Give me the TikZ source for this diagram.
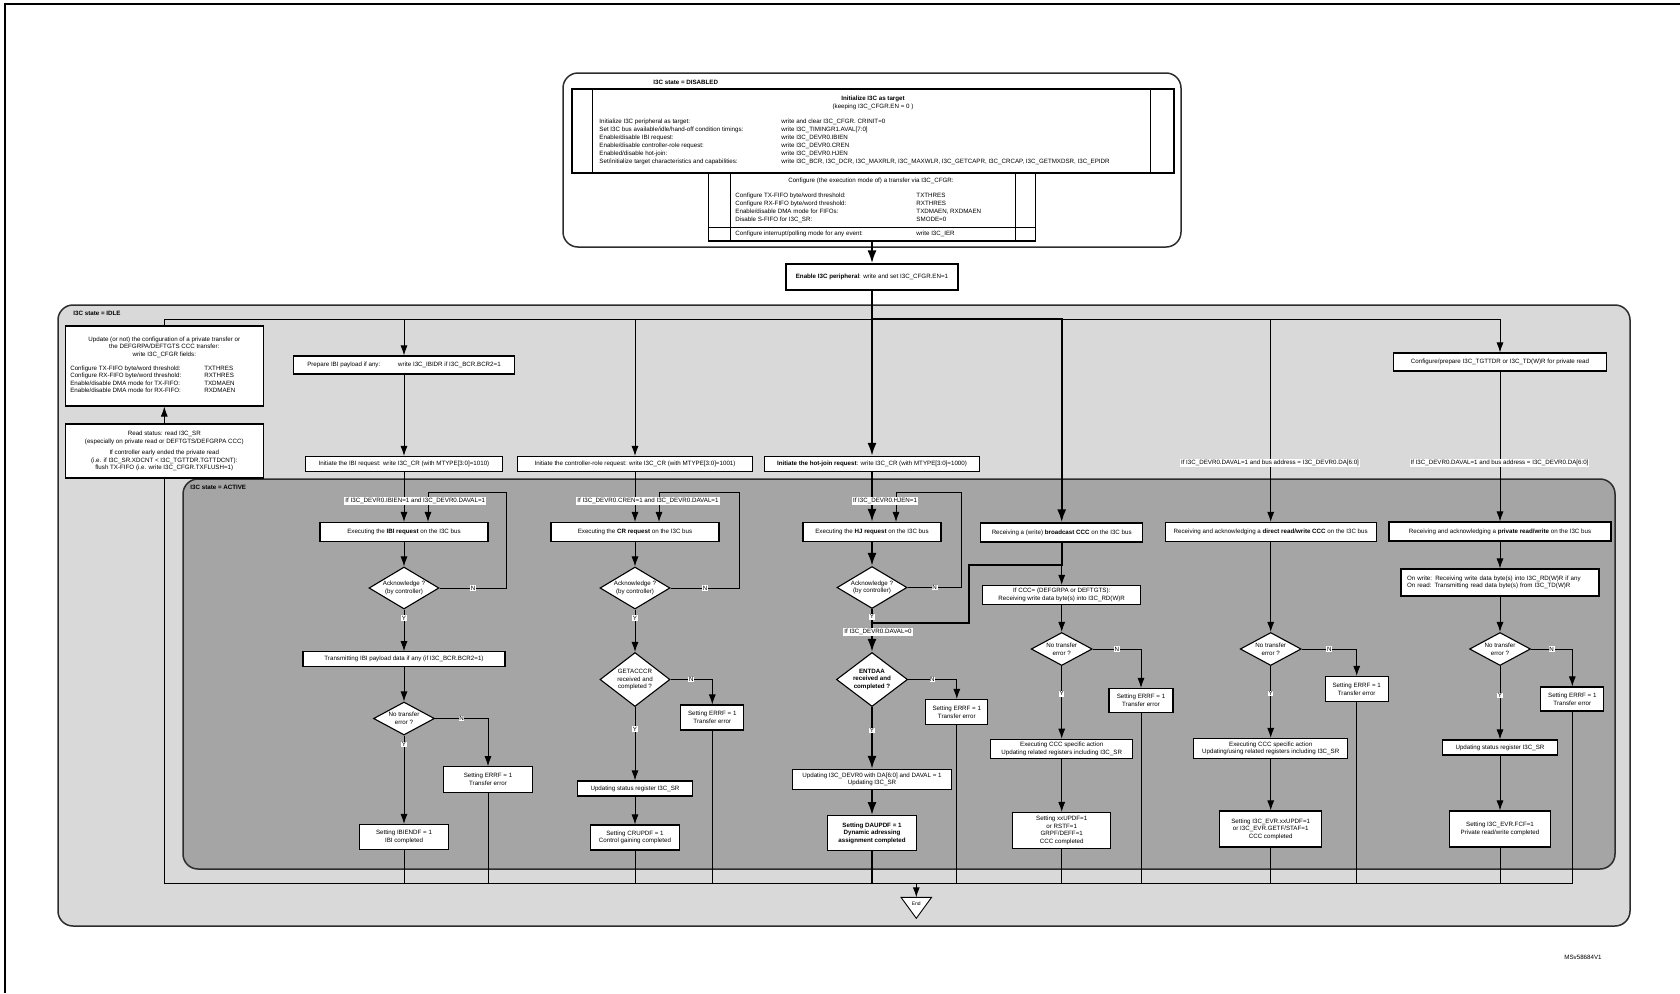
\documentclass[tikz,border=0pt]{standalone}
\usepackage{xcolor}
\usepackage{fontspec}
\setmainfont{Liberation Sans}
\usepackage{tikz}
\usetikzlibrary{shapes,arrows,arrows.meta,positioning,calc}
\definecolor{idlegray}{RGB}{217,217,217}
\definecolor{activegray}{RGB}{165,165,165}
\definecolor{edgegray}{RGB}{45,45,45}

\begin{document}
\begin{tikzpicture}[x=1pt, y=-1pt, line width=0.9pt,
        >={Latex[length=10pt,width=7pt]},
        every node/.style={font=\fontsize{6.2}{7.6}\selectfont, inner sep=0pt},
        blk/.style 2 args={rectangle, draw, fill=white, line width=1.1pt, align=center, minimum width=#1, minimum height=#2},
        ask/.style 2 args={diamond, draw, fill=white, line width=1.1pt, align=center, shape aspect=1.6, minimum width=#1, minimum height=#2},
        boldtext/.style={font=\fontsize{6.2}{7.6}\selectfont\bfseries},
        statelbl/.style={anchor=west, boldtext},
        cond/.style={fill=white, inner sep=1pt},
        yn/.style={fill=white, inner sep=0.7pt},
        heavy/.style={line width=2.3pt, >={Latex[length=13pt,width=9pt]}},
        region/.style={draw=edgegray, line width=1.5pt, rounded corners=15pt}]
        \useasboundingbox (0,0) rectangle (1680,993);
        \draw[line width=1.8pt] (5,993) -- (5,4) -- (1680,4);

        \draw[region, fill=white] (563,73) rectangle (1181,247);
        \draw[region, fill=idlegray] (58,305) rectangle (1630,926);
        \draw[region, fill=activegray] (183,479) rectangle (1615,869);
        \node (sdis) [statelbl] at (653,82) {I3C state = DISABLED};
        \node (sidle) [statelbl] at (73,313) {I3C state = IDLE};
        \node (sact) [statelbl] at (190,487) {I3C state = ACTIVE};

        % target set-up while disabled
        \node (initbox) [blk={602}{84}] at (873,131) {};
        \draw ([xshift=21pt]initbox.north west) -- ([xshift=21pt]initbox.south west);
        \draw ([xshift=-24pt]initbox.north east) -- ([xshift=-24pt]initbox.south east);
        \node (inittitle) [align=center] at (873,103) {\textbf{Initialize I3C as target}\\(keeping I3C\_CFGR.EN = 0 )};
        \node (initrows) [anchor=north west, font=\fontsize{6.2}{7.9}\selectfont] at (599,118) {\begin{tabular}{@{}p{182pt}@{}l@{}}
            Initialize I3C peripheral as target: & write and clear I3C\_CFGR. CRINIT=0\\
            Set I3C bus available/idle/hand-off condition timings: & write I3C\_TIMINGR1.AVAL[7:0]\\
            Enable/disable IBI request: & write I3C\_DEVR0.IBIEN\\
            Enable/disable controller-role request: & write I3C\_DEVR0.CREN\\
            Enabled/disable hot-join: & write I3C\_DEVR0.HJEN\\
            Set/initialize target characteristics and capabilities: & write I3C\_BCR, I3C\_DCR, I3C\_MAXRLR, I3C\_MAXWLR, I3C\_GETCAPR, I3C\_CRCAP, I3C\_GETMXDSR, I3C\_EPIDR
        \end{tabular}};
        \node (cfgbox) [blk={327}{68}] at (872,207) {};
        \draw ([xshift=22pt]cfgbox.north west) -- ([xshift=22pt]cfgbox.south west);
        \draw ([xshift=-21pt]cfgbox.north east) -- ([xshift=-21pt]cfgbox.south east);
        \draw ([yshift=14pt]cfgbox.south west) -- ([yshift=14pt]cfgbox.south east);
        \node (cfgtitle) at (871,181) {Configure (the execution mode of) a transfer via I3C\_CFGR:};
        \node (cfgrows) [anchor=north west, font=\fontsize{6.2}{7.8}\selectfont] at (735,192) {\begin{tabular}{@{}p{181pt}@{}l@{}}
            Configure TX-FIFO byte/word threshold: & TXTHRES\\
            Configure RX-FIFO byte/word threshold: & RXTHRES\\
            Enable/disable DMA mode for FIFOs: & TXDMAEN, RXDMAEN\\
            Disable S-FIFO for I3C\_SR: & SMODE=0
        \end{tabular}};
        \node (cfgier) [anchor=west] at (735,233.5) {\makebox[181pt][l]{Configure interrupt/polling mode for any event:}write I3C\_IER};
        \node (enable) [blk={172}{26}] at (872,277) {\textbf{Enable I3C peripheral}: write and set I3C\_CFGR.EN=1};

        % idle side boxes
        \node (upd) [blk={198}{80}] at (164.3,366) {Update (or not) the configuration of a private transfer or\\the DEFGRPA/DEFTGTS CCC transfer:\\write I3C\_CFGR fields:\\[6pt]\begin{tabular}{@{}p{134pt}@{}p{54pt}@{}}
            Configure TX-FIFO byte/word threshold: & TXTHRES\\
            Configure RX-FIFO byte/word threshold: & RXTHRES\\
            Enable/disable DMA mode for TX-FIFO: & TXDMAEN\\
            Enable/disable DMA mode for RX-FIFO: & RXDMAEN
        \end{tabular}};
        \node (rdst) [blk={198}{54}] at (164.3,451) {Read status: read I3C\_SR\\(especially on private read or DEFTGTS/DEFGRPA CCC)\\[4pt]If controller early ended the private read\\(i.e. if I3C\_SR.XDCNT < I3C\_TGTTDR.TGTTDCNT):\\flush TX-FIFO (i.e. write I3C\_CFGR.TXFLUSH=1)};

        % IBI
        \node (prepIBI) [blk={221}{18}] at (404,365) {\makebox[91pt][l]{Prepare IBI payload if any:}write I3C\_IBIDR if I3C\_BCR.BCR2=1};
        \node (initIBI) [blk={197}{15}] at (404,464) {Initiate the IBI request: write I3C\_CR (with MTYPE[3:0]=1010)};
        \node (execIBI) [blk={168}{19}] at (404,532) {Executing the \textbf{IBI request} on the I3C bus};
        \node (ackIBI) [ask={70}{42}] at (404,588) {Acknowledge ?\\(by controller)};
        \node (txIBI) [blk={202}{14.5}] at (404,659) {Transmitting IBI payload data if any (if I3C\_BCR.BCR2=1)};
        \node (errIBI) [ask={61}{33}] at (404,718.5) {No transfer\\error ?};
        \node (errfIBI) [blk={89}{25.5}] at (488,779.5) {Setting ERRF = 1\\Transfer error};
        \node (doneIBI) [blk={89}{25}] at (404,837) {Setting IBIENDF = 1\\IBI completed};

        % controller role
        \node (initCR) [blk={235.5}{15}] at (635,464) {Initiate the controller-role request: write I3C\_CR (with MTYPE[3:0]=1001)};
        \node (execCR) [blk={168}{19}] at (635,532) {Executing the \textbf{CR request} on the I3C bus};
        \node (ackCR) [ask={70}{42}] at (635,588) {Acknowledge ?\\(by controller)};
        \node (getCR) [ask={70}{54}] at (635,679.5) {GETACCCR\\received and\\completed ?};
        \node (errfCR) [blk={63}{25}] at (712.3,717.5) {Setting ERRF = 1\\Transfer error};
        \node (updCR) [blk={115}{15}] at (635,788.5) {Updating status register I3C\_SR};
        \node (doneCR) [blk={89}{25}] at (635,837.5) {Setting CRUPDF = 1\\Control gaining completed};

        % hot-join
        \node (initHJ) [blk={215}{15}] at (872,464) {\textbf{Initiate the hot-join request}: write I3C\_CR (with MTYPE[3:0]=1000)};
        \node (execHJ) [blk={138}{19}] at (872,532) {Executing the \textbf{HJ request} on the I3C bus};
        \node (ackHJ) [ask={70}{42}] at (872,587.5) {Acknowledge ?\\(by controller)};
        \node (entdaa) [ask={70}{54}, boldtext] at (872,679.5) {ENTDAA\\received and\\completed ?};
        \node (errfHJ) [blk={62}{25}] at (956.8,712) {Setting ERRF = 1\\Transfer error};
        \node (updHJ) [blk={159}{20}] at (872,779.5) {Updating I3C\_DEVR0 with DA[6:0] and DAVAL = 1\\Updating I3C\_SR};
        \node (doneHJ) [blk={89}{34.5}, boldtext] at (872,833) {Setting DAUPDF = 1\\Dynamic adressing\\assignment completed};

        % broadcast CCC
        \node (bcast) [blk={162}{19}] at (1061.7,532.5) {Receiving a (write) \textbf{broadcast CCC} on the I3C bus};
        \node (ifccc) [blk={158}{19}] at (1061.7,595) {If CCC= (DEFGRPA or DEFTGTS):\\Receiving write data byte(s) into I3C\_RD(W)R};
        \node (errB) [ask={61}{33}] at (1061.7,649) {No transfer\\error ?};
        \node (errfB) [blk={64}{24}] at (1141,700.5) {Setting ERRF = 1\\Transfer error};
        \node (execB) [blk={142}{19.5}] at (1061.7,749) {Executing CCC specific action\\Updating related registers including I3C\_SR};
        \node (doneB) [blk={98}{36}] at (1061.7,830.5) {Setting xxUPDF=1\\or RSTF=1\\GRPF/DEFF=1\\CCC completed};

        % direct CCC
        \node (dirB) [blk={211}{19}] at (1270.7,532) {Receiving and acknowledging a \textbf{direct read/write CCC} on the I3C bus};
        \node (errD) [ask={61}{33}] at (1270.7,649) {No transfer\\error ?};
        \node (errfD) [blk={63}{25}] at (1356.7,689) {Setting ERRF = 1\\Transfer error};
        \node (execD) [blk={154}{20}] at (1270.7,748.5) {Executing CCC specific action\\Updating/using related registers including I3C\_SR};
        \node (doneD) [blk={102}{36}] at (1270.7,829) {Setting I3C\_EVR.xxUPDF=1\\or I3C\_EVR.GETF/STAF=1\\CCC completed};

        % private read/write
        \node (cfgP) [blk={213}{18}] at (1500,362) {Configure/prepare I3C\_TGTTDR or I3C\_TD(W)R for private read};
        \node (privB) [blk={222}{19}] at (1500,531.5) {Receiving and acknowledging a \textbf{private read/write} on the I3C bus};
        \node (rwP) [blk={198}{27}, text width=186, align=left] at (1500,582.5) {On write: Receiving write data byte(s) into I3C\_RD(W)R if any\\On read: Transmitting read data byte(s) from I3C\_TD(W)R};
        \node (errP) [ask={61}{33}] at (1500,649) {No transfer\\error ?};
        \node (errfP) [blk={63}{24}] at (1572.3,699) {Setting ERRF = 1\\Transfer error};
        \node (updP) [blk={115}{15}] at (1500,747.5) {Updating status register I3C\_SR};
        \node (doneP) [blk={101}{36}] at (1500,829) {Setting I3C\_EVR.FCF=1\\Private read/write completed};

        \coordinate (bustop) at (164.3,319.3);
        \coordinate (busbot) at (164.3,883.3);
        \coordinate (bjoin) at (969.3,565);
        \coordinate (hjoin) at (969.3,622.7);
        \coordinate (endtop) at (916.3,897.3);

        \draw[heavy, ->] (cfgbox) -- (enable);
        \draw (rdst) -- (busbot) -- (errfP |- busbot) -- (errfP);
        \draw[->] (rdst) -- (upd);
        \draw (upd) -- (bustop) -- (initHJ |- bustop);
        \draw[heavy, ->] (initHJ |- bustop) -- (bcast |- bustop) -- (bcast);
        \draw (bcast |- bustop) -- (cfgP |- bustop);
        \draw[->] (endtop |- busbot) -- (endtop);

        \draw[->] (prepIBI |- bustop) -- (prepIBI);
        \draw[->] (prepIBI) -- (initIBI);
        \draw[->] (initIBI) -- (execIBI);
        \draw[->] (execIBI) -- (ackIBI);
        \draw[->] (ackIBI) -- node[yn, pos=0.2] {Y} (txIBI);
        \draw[->] (ackIBI.east) -- node[yn] {N} ++(67,0) |- ($(execIBI.north)+(24,-30)$) -- ($(execIBI.north)+(24,0)$);
        \draw[->] (txIBI) -- (errIBI);
        \draw[->] (errIBI) -| node[yn, pos=0.25] {N} (errfIBI);
        \draw[->] (errIBI) -- node[yn, pos=0.1] {Y} (doneIBI);
        \draw (doneIBI) -- (doneIBI |- busbot);
        \draw (errfIBI) -- (errfIBI |- busbot);

        \draw[->] (initCR |- bustop) -- (initCR);
        \draw[->] (initCR) -- (execCR);
        \draw[->] (execCR) -- (ackCR);
        \draw[->] (ackCR) -- node[yn, pos=0.2] {Y} (getCR);
        \draw[->] (ackCR.east) -- node[yn] {N} ++(69,0) |- ($(execCR.north)+(24,-30)$) -- ($(execCR.north)+(24,0)$);
        \draw[->] (getCR) -| node[yn, pos=0.25] {N} (errfCR);
        \draw[->] (getCR) -- node[yn, pos=0.3] {Y} (updCR);
        \draw[->] (updCR) -- (doneCR);
        \draw (doneCR) -- (doneCR |- busbot);
        \draw (errfCR) -- (errfCR |- busbot);

        \draw[heavy, ->] (enable) -- (initHJ);
        \draw[heavy, ->] (initHJ) -- (execHJ);
        \draw[heavy, ->] (execHJ) -- (ackHJ);
        \draw[heavy, ->] (ackHJ) -- node[yn, pos=0.18] {Y} (entdaa);
        \draw[->] (ackHJ.east) -- node[yn] {N} ++(54,0) |- ($(execHJ.north)+(24,-30)$) -- ($(execHJ.north)+(24,0)$);
        \draw[->] (entdaa) -| node[yn, pos=0.25] {N} (errfHJ);
        \draw[heavy, ->] (entdaa) -- node[yn, pos=0.38] {Y} (updHJ);
        \draw[heavy, ->] (updHJ) -- (doneHJ);
        \draw[heavy] (doneHJ) -- (doneHJ |- busbot);
        \draw (errfHJ) -- (errfHJ |- busbot);

        \draw[heavy] (bcast) -- (bcast |- bjoin) -- (bjoin) -- (hjoin) -- (ackHJ |- hjoin);
        \draw[->] (bcast |- bjoin) -- (ifccc);
        \draw[->] (ifccc) -- (errB);
        \draw[->] (errB) -| node[yn, pos=0.25] {N} (errfB);
        \draw[->] (errB) -- node[yn, pos=0.38] {Y} (execB);
        \draw[->] (execB) -- (doneB);
        \draw (doneB) -- (doneB |- busbot);
        \draw (errfB) -- (errfB |- busbot);

        \draw[->] (dirB |- bustop) -- (dirB);
        \draw[->] (dirB) -- (errD);
        \draw[->] (errD) -| node[yn, pos=0.25] {N} (errfD);
        \draw[->] (errD) -- node[yn, pos=0.38] {Y} (execD);
        \draw[->] (execD) -- (doneD);
        \draw (doneD) -- (doneD |- busbot);
        \draw (errfD) -- (errfD |- busbot);

        \draw[->] (cfgP |- bustop) -- (cfgP);
        \draw[->] (cfgP) -- (privB);
        \draw[->] (privB) -- (rwP);
        \draw[->] (rwP) -- (errP);
        \draw[->] (errP) -| node[yn, pos=0.25] {N} (errfP);
        \draw[->] (errP) -- node[yn, pos=0.4] {Y} (updP);
        \draw[->] (updP) -- (doneP);
        \draw (doneP) -- (doneP |- busbot);

        \node (cIBI) [cond] at (415.3,500.7) {If I3C\_DEVR0.IBIEN=1 and I3C\_DEVR0.DAVAL=1};
        \node (cCR) [cond] at (648,500.7) {If I3C\_DEVR0.CREN=1 and I3C\_DEVR0.DAVAL=1};
        \node (cHJ) [cond] at (885,500.7) {If I3C\_DEVR0.HJEN=1};
        \node (cDA) [cond] at (878,631.7) {If I3C\_DEVR0.DAVAL=0};
        \node (cDir) [cond] at (1270,463.3) {If I3C\_DEVR0.DAVAL=1 and bus address = I3C\_DEVR0.DA[6:0]};
        \node (cPriv) [cond] at (1499.5,463.3) {If I3C\_DEVR0.DAVAL=1 and bus address = I3C\_DEVR0.DA[6:0]};

        \draw[fill=white, line width=0.9pt] (endtop) ++(-15.3,0) -- ++(30.6,0) -- ++(-15.3,21) -- cycle;
        \node (endn) [font=\fontsize{5}{6}\selectfont] at (916.3,903.5) {End};
        \node (msv) at (1583,957) {MSv58684V1};
    \end{tikzpicture}
\end{document}
